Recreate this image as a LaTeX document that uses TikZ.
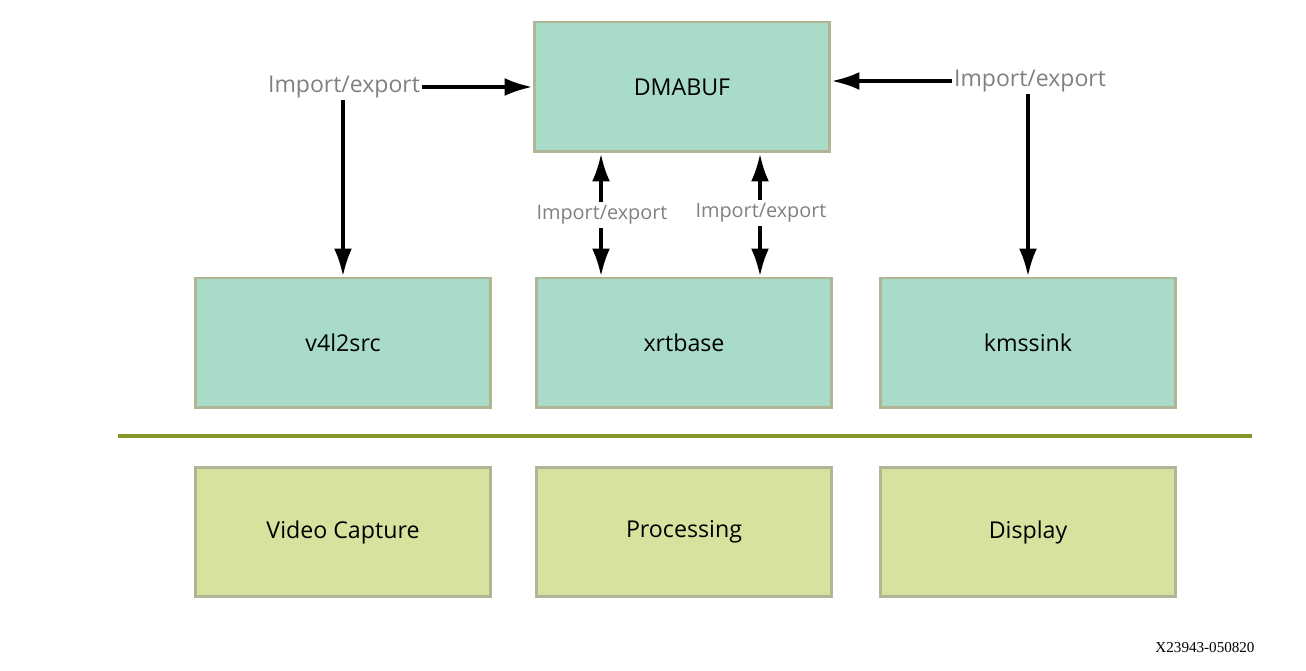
\documentclass[tikz,border=0pt]{standalone}
\usepackage{fontspec}
\setmainfont{Open Sans}
\newfontfamily\footfont{Liberation Serif}
\usetikzlibrary{arrows.meta}

\definecolor{bufteal}{RGB}{168,220,200}
\definecolor{layergreen}{RGB}{214,227,158}
\definecolor{boxedge}{RGB}{176,181,150}
\definecolor{splitline}{RGB}{134,150,43}
\definecolor{labelgray}{RGB}{128,128,128}

\begin{document}
\begin{tikzpicture}[x=0.02cm, y=-0.02cm,
			block/.style={draw=boxedge, line width=1.7pt, fill=bufteal,
				minimum width=5.92cm, minimum height=2.6cm, inner sep=0pt,
				font=\fontsize{13.2pt}{15pt}\selectfont},
			layer/.style={block, fill=layergreen},
			biglbl/.style={text=labelgray, inner sep=1pt,
				font=\fontsize{13.1pt}{15pt}\selectfont},
			smalllbl/.style={text=labelgray, inner sep=2pt,
				font=\fontsize{11.3pt}{13pt}\selectfont},
			flow/.style={line width=2.2pt, -{Latex[length=0.56cm, width=0.36cm]}}]
			\useasboundingbox (0,0) rectangle (1306,671);
			% top buffer
			\node[block] (dma) at (682,87) {DMABUF};
			% gstreamer elements
			\node[block] (v4l) at (343,343) {v4l2src};
			\node[block] (xrt) at (684,343) {xrtbase};
			\node[block] (kms) at (1028,343) {kmssink};
			% separator
			\draw[splitline, line width=2.3pt] (118,436) -- (1252,436);
			% functional layers
			\node[layer] (cap) at (343,532) {Video Capture};
			\node[layer] (proc) at (684,532) {Processing};
			\node[layer] (disp) at (1028,532) {Display};
			% import/export labels
			\node[biglbl] (lblL) at (344,87) {Import/export};
			\node[biglbl] (lblR) at (1030,81) {Import/export};
			\node[smalllbl] (lblA) at (602,215) {Import/export};
			\node[smalllbl] (lblB) at (761,213) {Import/export};
			% arrows
			\draw[flow] (lblL.east) -- (dma.west);
			\draw[flow] (lblL.south -| v4l.north) -- (v4l.north);
			\draw[flow] (lblR.west) -- (lblR.west -| dma.east);
			\draw[flow] (kms.north |- lblR.south) -- (kms.north);
			\draw[flow] (lblA.north -| 601,0) -- (dma.south -| 601,0);
			\draw[flow] (lblA.south -| 601,0) -- (xrt.north -| 601,0);
			\draw[flow] (lblB.north -| 760,0) -- (dma.south -| 760,0);
			\draw[flow] (lblB.south -| 760,0) -- (xrt.north -| 760,0);
			% figure number
			\node[font=\footfont\fontsize{8.6pt}{10pt}\selectfont] (fig) at (1205,648) {X23943-050820};
		\end{tikzpicture}
\end{document}
